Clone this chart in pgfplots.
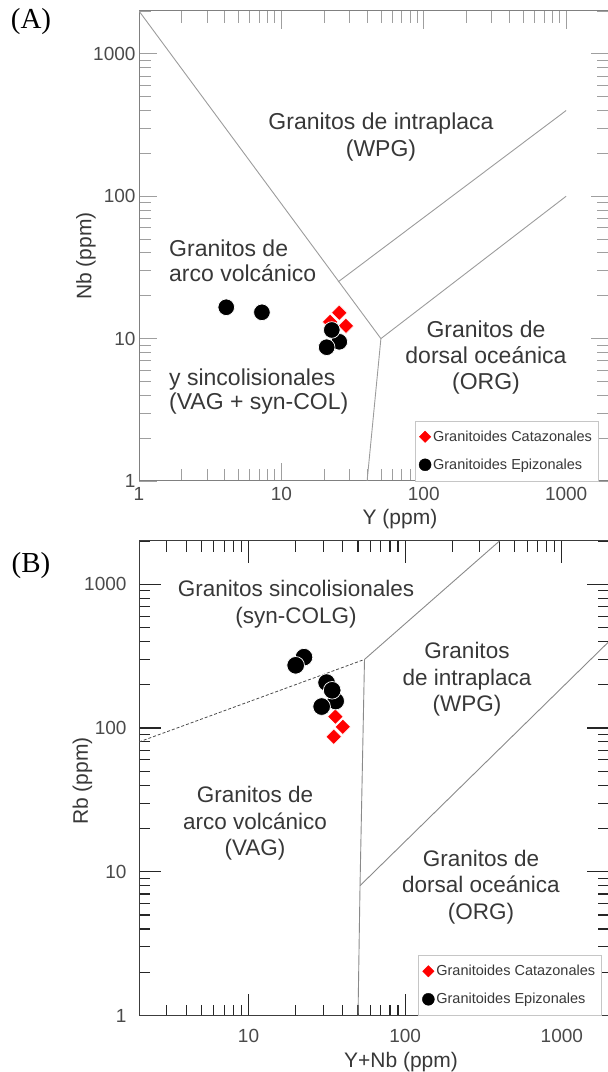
\documentclass[border=0pt]{standalone}
\usepackage{pgfplots}
\pgfplotsset{compat=1.18}
\usepackage{fontspec}
\setmainfont{Liberation Sans}
\newfontfamily\seriffont{Liberation Serif}
\definecolor{txt}{HTML}{383838}
\definecolor{tickc}{HTML}{4A4A4A}
\definecolor{lineA}{HTML}{9C9C9C}
\definecolor{frameA}{HTML}{808080}
\definecolor{lineB}{HTML}{8A8A8A}
\definecolor{frameB}{HTML}{3C3C3C}
\definecolor{redm}{HTML}{FF0000}
\begin{document}
\begin{tikzpicture}[x=1pt,y=1pt]
\useasboundingbox (0,0) rectangle (608,1072);
% ---------------- Panel A ----------------
\begin{axis}[
  xmode=log, ymode=log, scale only axis, width=470pt, height=470pt,
  at={(139pt,591pt)}, anchor=south west,
  tick pos=both, tick align=inside,
  tick label style={font=\fontsize{19}{22}\selectfont, text=tickc},
  xmin=1, xmax=2000, ymin=1, ymax=2000,
  xtick={1,10,100,1000}, xticklabels={1,10,100,1000},
  ytick={1,10,100,1000}, yticklabels={1,10,100,1000},
  minor xtick={2,3,4,5,6,7,8,9,20,30,40,50,60,70,80,90,200,300,400,500,600,700,800,900,2000},
  minor ytick={2,3,4,5,6,7,8,9,20,30,40,50,60,70,80,90,200,300,400,500,600,700,800,900,2000},
  axis line style={draw=frameA, line width=1pt},
  tick style={draw=gray!75, line width=0.8pt},
  major tick length=18pt, minor tick length=12pt,
  xticklabel style={yshift=-3pt},
  legend style={font=\fontsize{14.5}{16}\selectfont, text=txt, draw=gray!45, fill=white,
      inner xsep=4pt, inner ysep=8pt, row sep=12pt, at={(0.587,0)}, anchor=south west},
  legend cell align=left,
  legend image code/.code={\draw[#1] plot coordinates {(0.12cm,0cm)};},
]
\addplot[lineA, line width=0.9pt, forget plot] coordinates {(1,2000) (50,10) (1000,100)};
\addplot[lineA, line width=0.9pt, forget plot] coordinates {(50,10) (40,1)};
\addplot[lineA, line width=0.9pt, forget plot] coordinates {(25,25) (1000,400)};
\addplot[only marks, mark=square*, mark size=5.5pt, mark options={rotate=45, fill=redm, draw=white, line width=0.6pt}, forget plot]
  coordinates {(25.5,15.2) (28.4,12.3) (22,13.1)};
\addplot[only marks, mark=*, mark size=8.3pt, mark options={fill=black, draw=white, line width=0.7pt}, forget plot]
  coordinates {(4.1,16.6) (7.3,15.3) (25.5,9.5) (20.8,8.7) (22.6,11.5)};
\addlegendimage{only marks, mark=square*, mark size=4pt, mark options={rotate=45, fill=redm, draw=redm}}
\addlegendentry{Granitoides Catazonales}
\addlegendimage{only marks, mark=*, mark size=6pt, mark options={fill=black, draw=black}}
\addlegendentry{Granitoides Epizonales}
\end{axis}
% ---------------- Panel B ----------------
\begin{axis}[
  xmode=log, ymode=log, scale only axis, width=470pt, height=474.5pt,
  at={(139pt,56.5pt)}, anchor=south west,
  tick pos=both, tick align=inside,
  tick label style={font=\fontsize{19}{22}\selectfont, text=tickc},
  xmin=2, xmax=2000, ymin=1, ymax=2000,
  xtick={10,100,1000}, xticklabels={10,100,1000},
  ytick={1,10,100,1000}, yticklabels={1,10,100,1000},
  minor xtick={3,4,5,6,7,8,9,20,30,40,50,60,70,80,90,200,300,400,500,600,700,800,900,2000},
  minor ytick={2,3,4,5,6,7,8,9,20,30,40,50,60,70,80,90,200,300,400,500,600,700,800,900,2000},
  axis line style={draw=frameB, line width=1pt},
  tick style={draw=black!85, line width=1.1pt},
  major tick length=22pt, minor tick length=11pt,
  xticklabel style={yshift=-10pt},
  yticklabel style={xshift=-9pt},
  legend style={font=\fontsize{14.5}{16}\selectfont, text=txt, draw=gray!45, fill=white,
      inner xsep=4pt, inner ysep=8pt, row sep=12pt, at={(0.594,0)}, anchor=south west},
  legend cell align=left,
  legend image code/.code={\draw[#1] plot coordinates {(0.12cm,0cm)};},
]
\addplot[black!70, line width=0.8pt, dash pattern=on 3pt off 2pt, forget plot] coordinates {(2,80) (55,300)};
\addplot[lineB, line width=0.9pt, forget plot] coordinates {(55,300) (400,2000)};
\addplot[lineB, line width=0.9pt, forget plot] coordinates {(55,300) (51.5,8) (50,1)};
\addplot[lineB, line width=0.9pt, forget plot] coordinates {(51.5,8) (2000,400)};
\addplot[only marks, mark=square*, mark size=5.5pt, mark options={rotate=45, fill=redm, draw=white, line width=0.6pt}, forget plot]
  coordinates {(35.8,120) (40,102) (35,87)};
\addplot[only marks, mark=*, mark size=8.8pt, mark options={fill=black, draw=white, line width=0.7pt}, forget plot]
  coordinates {(22.6,311) (20,273) (31.5,207) (36,154) (34.2,183) (29.3,141)};
\addlegendimage{only marks, mark=square*, mark size=4pt, mark options={rotate=45, fill=redm, draw=redm}}
\addlegendentry{Granitoides Catazonales}
\addlegendimage{only marks, mark=*, mark size=6pt, mark options={fill=black, draw=black}}
\addlegendentry{Granitoides Epizonales}
\end{axis}
% ---------------- texts ----------------
\begin{scope}[every node/.style={text=txt, inner sep=0pt}]
\node[font=\seriffont\fontsize{29}{32}\selectfont, text=black] at (31,1050) {(A)};
\node[font=\seriffont\fontsize{29}{32}\selectfont, text=black] at (31,506) {(B)};
\node[font=\fontsize{21}{24}\selectfont, anchor=base] at (400,547) {Y (ppm)};
\node[font=\fontsize{21}{24}\selectfont, rotate=90] at (86,816) {Nb (ppm)};
\node[font=\fontsize{21}{24}\selectfont, anchor=base] at (401,5) {Y+Nb (ppm)};
\node[font=\fontsize{21}{24}\selectfont, rotate=90] at (82.5,291) {Rb (ppm)};
\node[font=\fontsize{23}{26.5}\selectfont, align=center] at (381,935) {Granitos de intraplaca\\(WPG)};
\node[font=\fontsize{23}{25}\selectfont, align=left, anchor=west] at (169,811.6) {Granitos de\\arco volcánico};
\node[font=\fontsize{23}{24}\selectfont, align=left, anchor=west] at (169,680) {y sincolisionales\\(VAG + syn-COL)};
\node[font=\fontsize{23}{26}\selectfont, align=center] at (486,714.8) {Granitos de\\dorsal oceánica\\(ORG)};
\node[font=\fontsize{22.5}{27}\selectfont, align=center] at (296,468) {Granitos sincolisionales\\(syn-COLG)};
\node[font=\fontsize{22.5}{26.5}\selectfont, align=center] at (467,392.8) {Granitos\\de intraplaca\\(WPG)};
\node[font=\fontsize{22.5}{26.5}\selectfont, align=center] at (255,248.5) {Granitos de\\arco volcánico\\(VAG)};
\node[font=\fontsize{22.5}{26.5}\selectfont, align=center] at (481,185) {Granitos de\\dorsal oceánica\\(ORG)};
\end{scope}
\end{tikzpicture}
\end{document}
